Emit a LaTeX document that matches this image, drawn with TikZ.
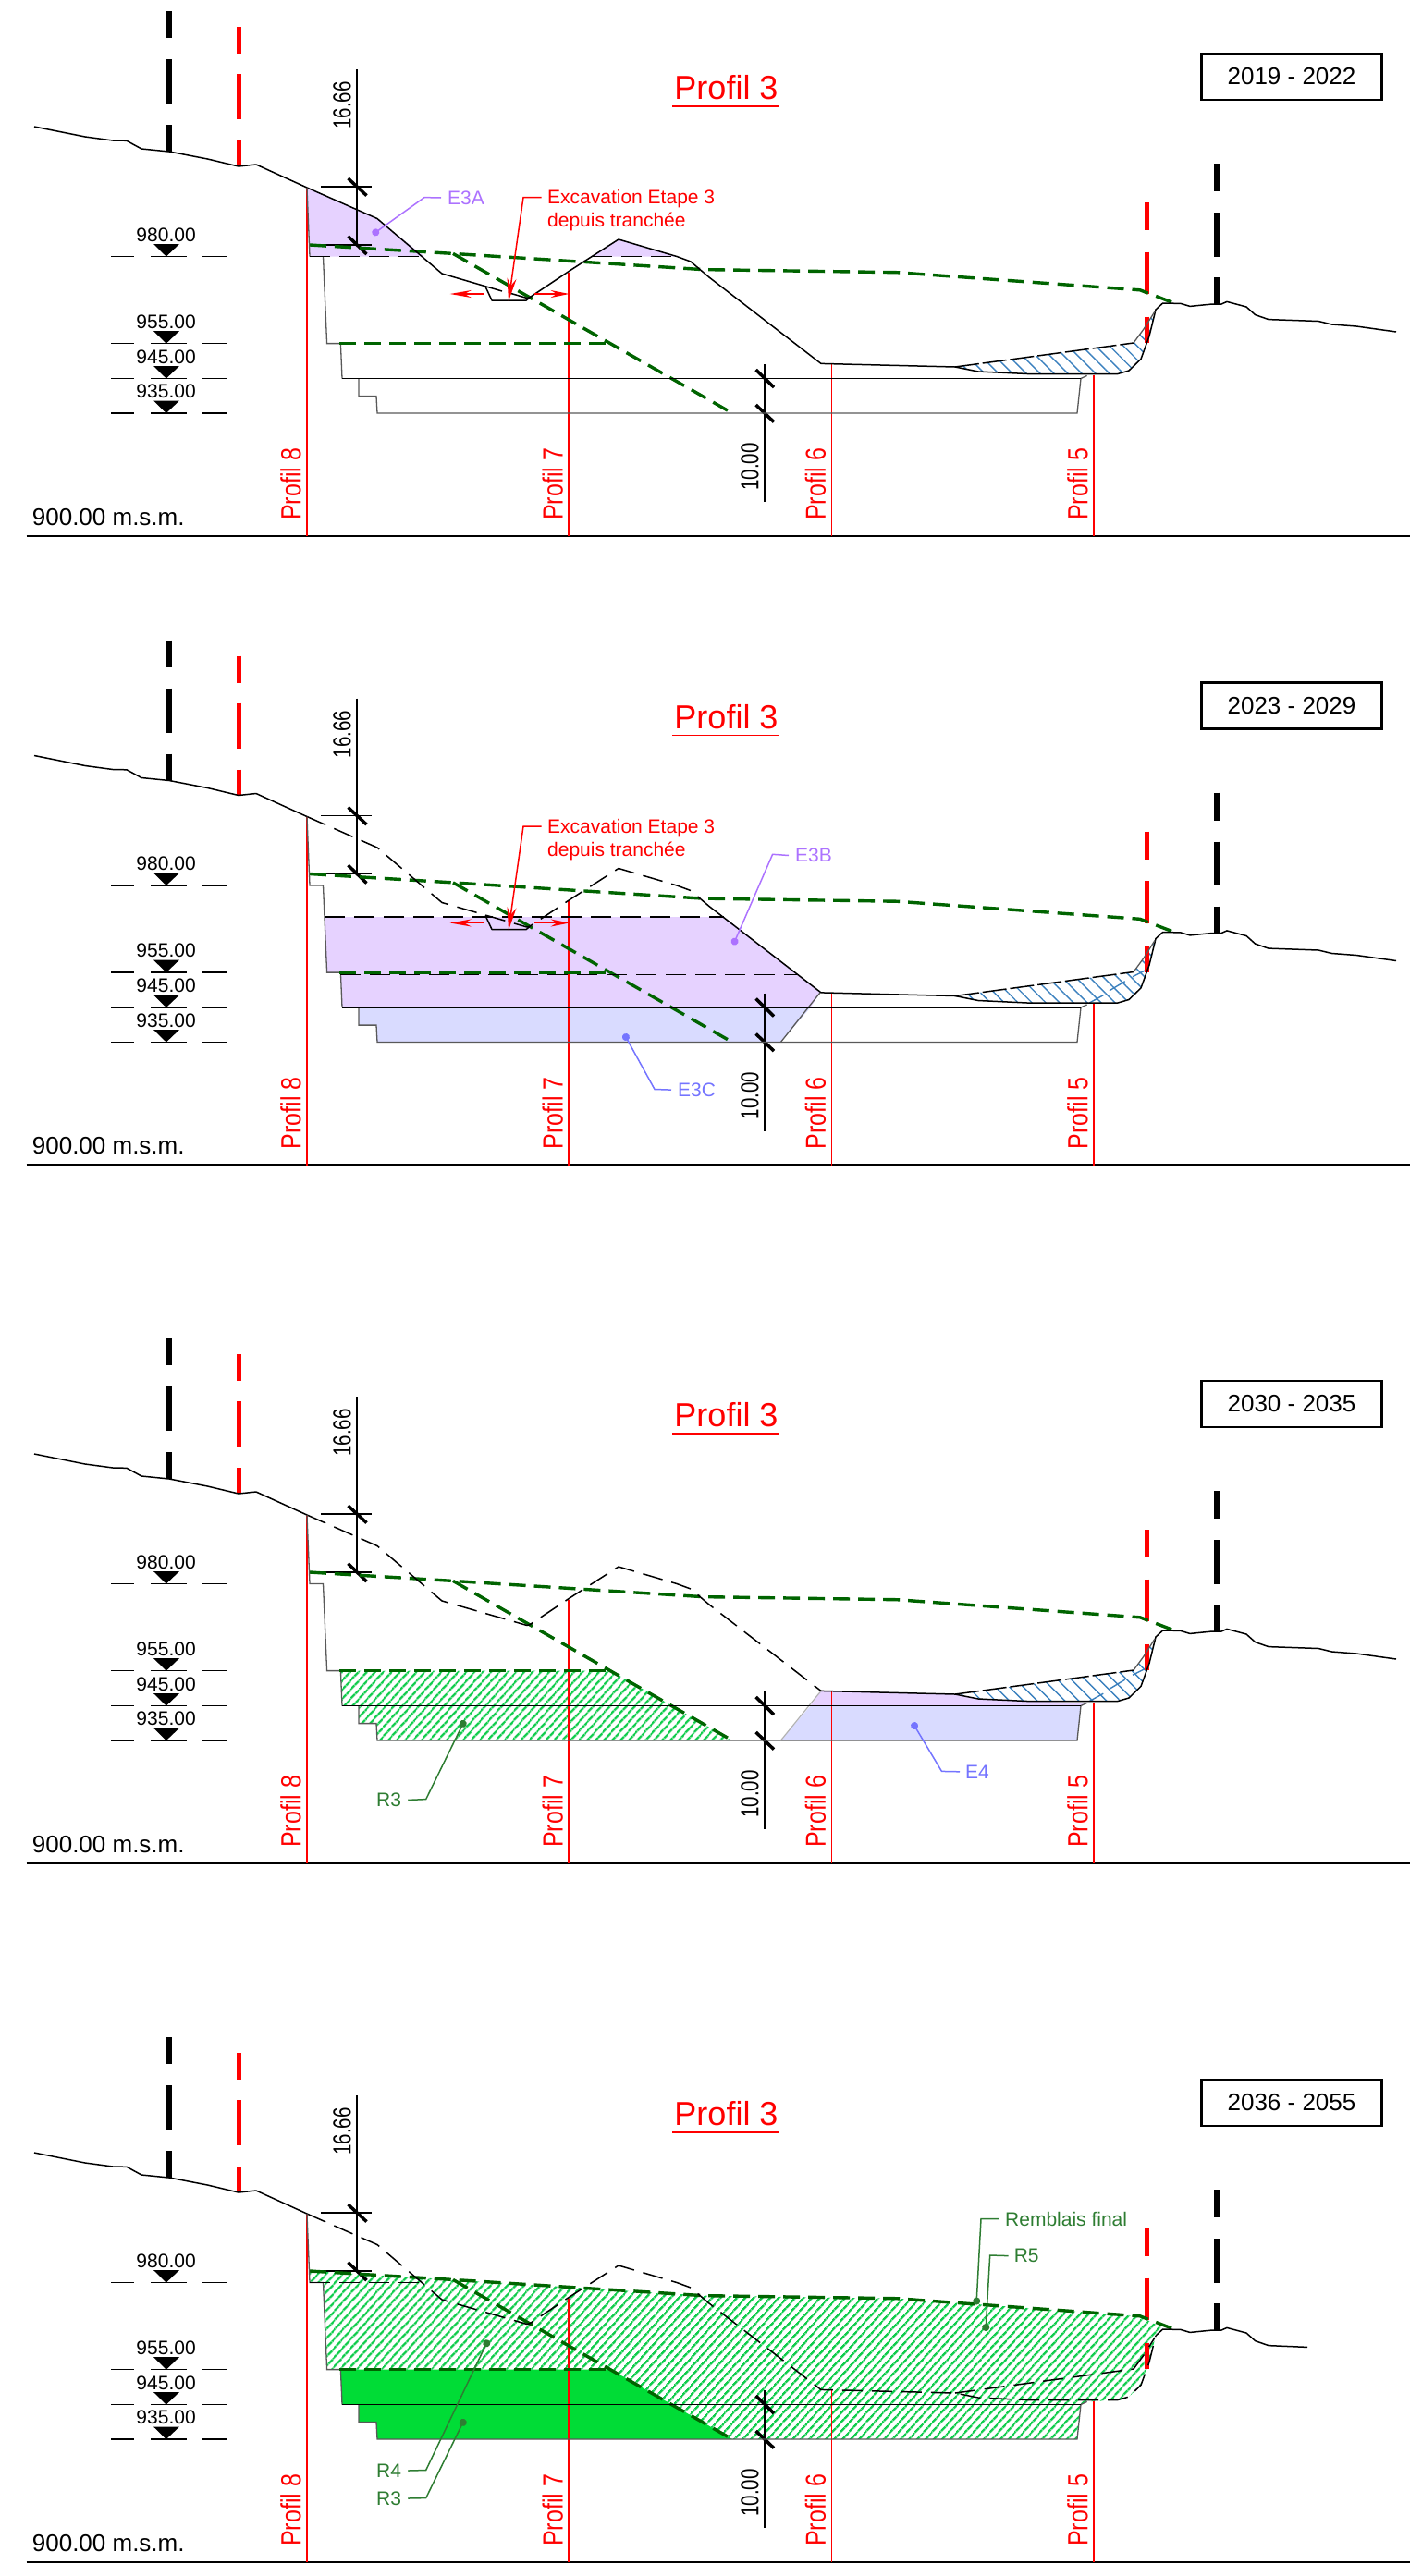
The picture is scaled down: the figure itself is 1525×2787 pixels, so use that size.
\documentclass[tikz,border=0pt]{standalone}
\usepackage{fontspec}
\setmainfont{Liberation Sans}
\usetikzlibrary{arrows.meta,patterns.meta}

\definecolor{violetpale}{HTML}{E6D2FF}
\definecolor{violetline}{HTML}{AC72FF}
\definecolor{lavande}{HTML}{D9DBFF}
\definecolor{lavandeline}{HTML}{7474FF}
\definecolor{vertfonce}{HTML}{006400}
\definecolor{vertnote}{HTML}{2E7D32}
\definecolor{vertplein}{HTML}{00DC36}
\definecolor{verthachure}{HTML}{10CC4C}
\definecolor{bleuhachure}{HTML}{3A80BE}

\tikzset{
  ground/.style={line width=1.5pt,line join=round},
  grounddash/.style={ground,dash pattern=on 22pt off 10pt},
  greyline/.style={line width=1.3pt,draw=black!65},
  blackline/.style={line width=1.5pt},
  leveldash/.style={line width=1.5pt,dash pattern=on 22pt off 10pt},
  greendash/.style={line width=3.4pt,draw=vertfonce,dash pattern=on 18pt off 9pt},
  blueedge/.style={line width=1.5pt,dash pattern=on 26pt off 4pt},
  profline/.style={line width=1.8pt,red},
  proflabel/.style={red,rotate=90,anchor=west,inner sep=0pt,font=\fontsize{25}{27}\selectfont},
  levellabel/.style={inner sep=0pt,font=\fontsize{21}{24}\selectfont},
  dimlabel/.style={inner sep=0pt,rotate=90,font=\fontsize{20.5}{24}\selectfont},
  dimtick/.style={line width=3.5pt},
  note/.style={anchor=west,inner sep=0pt,font=\fontsize{21}{25}\selectfont},
  leader/.style={line width=1.5pt,{Circle[length=8pt,width=8pt]}-},
  hatchblue/.style={pattern={Lines[angle=-45,distance=10.6pt,line width=1.4pt]},pattern color=bleuhachure},
  hatchgreen/.style={pattern={Lines[angle=48,distance=6.5pt,line width=2.4pt]},pattern color=verthachure},
}
\newcommand{\tall}[2]{\scalebox{1}[#1]{#2}}

% terrain pieces
\newcommand{\groundleft}{(37,137) -- (92,148) -- (122,152) -- (137,152.3) -- (153,161) -- (183,164) -- (224.5,172) -- (258,180) -- (277,178) -- (332,203)}
\newcommand{\groundhill}{(573,321.7) -- (616,293) -- (669,259) -- (732,277.5) -- (747,283) -- (767,300)}
\newcommand{\groundbasin}{(888,393.4) -- (1033,397) -- (1058,402) -- (1111,404.5) -- (1209,404.5) -- (1221,401) -- (1234,388.4)}
\newcommand{\groundbank}{(1234,388.4) -- (1243,363.6) -- (1250,335)}
\newcommand{\groundtop}{(1250,335) -- (1257.6,328) -- (1277,328.4) -- (1287,331.4) -- (1311,329) -- (1321,329) -- (1327,326.4) -- (1348,332) -- (1357.6,340.6) -- (1372,345.6)}
\newcommand{\groundtail}{(1372,345.6) -- (1426,347.5) -- (1440.5,351) -- (1467,353) -- (1510,359)}
\newcommand{\shapeRthree}{(368.4,371.6) -- (660.7,371.6) -- (792,447) -- (408,447) -- (407,428.6) -- (388,428.6) -- (388,409.5) -- (370,409.5) -- cycle}
\newcommand{\shapeBlue}{(1033,397) -- (1226,371) -- (1237,356) -- (1249,337) -- (1243,363.6) -- (1234,388.4) -- (1221,401) -- (1209,404.5) -- (1111,404.5) -- (1058,402) -- cycle}

% what stays the same in the four sections
\newcommand{\sectionframe}[1]{
  \draw[line width=2.2pt] (28.6,580) -- (1525,580);
  \node (base) [anchor=west,inner sep=0pt,font=\fontsize{26}{28}\selectfont] at (34.7,559.5) {900.00 m.s.m.};
  \foreach \k/\xx/\yy in {8/332/203,7/615.3/294.7,6/899.5/393.4,5/1183/405.6} {
    \draw[profline] (\xx,\yy) -- (\xx,580);
    \node (prof\k) [proflabel] at (\xx-17.5,563) {\tall{1.22}{Profil \k}};
  }
  \foreach \k/\lev/\yy in {a/980.00/277.5,b/955.00/371.6,c/945.00/409.5,d/935.00/447} {
    \draw[line width=1.5pt] (120,\yy) -- (145,\yy) (163,\yy) -- (201.5,\yy) (219,\yy) -- (245,\yy);
    \fill (166,\yy-13.5) -- (194,\yy-13.5) -- (179.8,\yy) -- cycle;
    \node (lev\k) [levellabel] at (179.6,\yy-23.5) {\lev};
  }
  % vertical limits
  \foreach \y/\z in {12/41,64/112,135/164} \draw[line width=6pt] (182.7,\y) -- (182.7,\z);
  \foreach \y/\z in {29/58,80/129,152/180} \draw[line width=5pt,red] (258.7,\y) -- (258.7,\z);
  \foreach \y/\z in {219/249,272.5/318.4,342.5/371} \draw[line width=5pt,red] (1240,\y) -- (1240,\z);
  \foreach \y/\z in {177/207,230/277.5,300/329} \draw[line width=6pt] (1315.6,\y) -- (1315.6,\z);
  % dimensions
  \draw[line width=1.5pt] (386,75) -- (386,265.5) (347,202) -- (402,202) (347,265) -- (402,265);
  \draw[dimtick] (376.5,193) -- (396.5,211.6);
  \draw[dimtick] (376.5,255.6) -- (396.5,275);
  \node (dimtop) [dimlabel] at (370,114) {\tall{1.33}{16.66}};
  \draw[line width=1.5pt] (826.8,394) -- (826.8,543.4);
  \draw[dimtick] (817.6,400) -- (837,419);
  \draw[dimtick] (817.6,438) -- (837,456.6);
  \node (dimbot) [dimlabel] at (811,505) {\tall{1.33}{10.00}};
  % final surface
  \draw[greendash] (335,265) -- (490,274.4) -- (760,291.6) -- (970,294.7) -- (1233,313.8) -- (1270,328);
  \draw[greendash] (490,274.4) -- (792,447);
  % title and period
  \node (titre) [red,inner sep=0pt,font=\fontsize{36}{38}\selectfont] at (785.5,95) {Profil 3};
  \draw[red,line width=1.8pt] (727,115) -- (843,115);
  \node (date) [draw,line width=2.5pt,minimum width=195pt,minimum height=50pt,inner sep=0pt,font=\fontsize{26}{28}\selectfont] at (1397,83) {#1};
}
\newcommand{\excavnote}{
  \node (excav) [note,red,align=left] at (592,228) {Excavation Etape 3\\depuis tranchée};
  \coordinate (excavtail) at (585.7,213.6);
  \coordinate (excavtip) at (550,326);
  \draw[red,line width=1.5pt,-{Stealth[length=25pt,width=10pt]}] (excavtail) -- (566,213.6) -- (excavtip);
  \draw[red,line width=1.5pt,-{Stealth[length=23pt,width=8pt]}] (523,318) -- (486.7,318);
  \draw[red,line width=1.5pt,-{Stealth[length=20pt,width=8pt]}] (578,318) -- (615.7,318);
}
\newcommand{\crossblue}{
  \draw[bleuhachure,line width=1.4pt] (1178.3,404.5) -- (1193.3,396.2) (1200,391.2) -- (1216.7,381.2) (1225,376.2) -- (1241.7,367.8);
}

\begin{document}
\begin{tikzpicture}[x=1pt,y=-1pt]
\useasboundingbox (0,0) rectangle (1525,2787);

% 2019 - 2022
\begin{scope}[name prefix=pa-]
\fill[violetpale] (332,203) -- (408,236.5) -- (459,277.5) -- (335,277.5) -- cycle;
\fill[violetpale] (640,277.5) -- (669,259) -- (732,277.5) -- cycle;
\fill[hatchblue] \shapeBlue;
\sectionframe{2019 - 2022}
\draw[ground] \groundleft -- (408,236.5) -- (478,296) -- (543,315);
\draw[ground] (551,317) -- (570,322.5) -- \groundhill -- (888,393.4) -- \groundbasin -- \groundbank -- \groundtop -- \groundtail;
\draw[ground] (525,310) -- (532,325) -- (569.3,325) -- (573,321.7);
\draw[blueedge] (1033,397) -- (1226,371);
\draw[greyline] (1226,371) -- (1237,356) -- (1249,337);
\draw[greyline] (332,203) -- (335,277.5) (349.5,277.5) -- (353.6,371.6) -- (368.4,371.6) -- (370,409.5);
\draw[greyline] (388,409.5) -- (388,428.6) -- (407,428.6) -- (408,447) -- (1165,447) -- (1169,409.5) -- (1175.6,406.4);
\draw[blackline] (370,409.5) -- (1169,409.5);
\draw[leveldash] (335,277.5) -- (459,277.5) (640,277.5) -- (732,277.5);
\draw[greendash] (367,371.6) -- (660.7,371.6);
\excavnote
\coordinate (e3adot) at (403,253.7);
\node (e3a) [note,violetline] at (484,214) {E3A};
\draw[leader,violetline] (e3adot) -- (459,213.6) -- ([xshift=-7pt]e3a.west);
\end{scope}

% 2023 - 2029
\begin{scope}[yshift=-680.5pt,name prefix=pb-]
\fill[violetpale] (351,311.5) -- (783,311.5) -- (887,393.4) -- (876.6,409.5) -- (370,409.5) -- (368.4,371.6) -- (353.6,371.6) -- cycle;
\fill[lavande] (388,409.5) -- (876.6,409.5) -- (844.4,447) -- (408,447) -- (407,428.6) -- (388,428.6) -- cycle;
\fill[hatchblue] \shapeBlue;
\crossblue
\sectionframe{2023 - 2029}
\draw[ground] \groundleft;
\draw[grounddash] (332,203) -- (408,236.5) -- (478,296) -- (570,322.5) -- \groundhill;
\draw[ground] (767,300) -- (888,393.4) -- \groundbasin -- \groundbank -- \groundtop -- \groundtail;
\draw[ground] (525,310) -- (532,325) -- (569.3,325) -- (573,321.7);
\draw[blueedge] (1033,397) -- (1226,371);
\draw[greyline] (1226,371) -- (1237,356) -- (1249,337);
\draw[greyline] (332,203) -- (335,277.5) -- (349.5,277.5) -- (353.6,371.6) -- (368.4,371.6) -- (370,409.5);
\draw[greyline] (388,409.5) -- (388,428.6) -- (407,428.6) -- (408,447) -- (1165,447) -- (1169,409.5) -- (1175.6,406.4);
\draw[greyline] (887,393.4) -- (844.4,447);
\draw[blackline] (370,409.5) -- (1169,409.5);
\draw[leveldash] (351,311.5) -- (783,311.5) (368,374) -- (862,374);
\draw[greendash] (367,371.6) -- (660.7,371.6);
\excavnote
\coordinate (e3bdot) at (793,341.7);
\node (e3b) [note,violetline] at (860,245) {E3B};
\draw[leader,violetline] (e3bdot) -- (835.6,243.8) -- ([xshift=-7pt]e3b.west);
\coordinate (e3cdot) at (675,438);
\node (e3c) [note,lavandeline] at (733,498.6) {E3C};
\draw[leader,lavandeline] (e3cdot) -- (708,498) -- ([xshift=-7pt]e3c.west);
\end{scope}

% 2030 - 2035
\begin{scope}[yshift=-1436pt,name prefix=pc-]
\fill[violetpale] (888,393.4) -- (1033,397) -- (1058,402) -- (1111,404.5) -- (1175.6,406.4) -- (1169,409.5) -- (876.6,409.5) -- cycle;
\fill[lavande] (876.6,409.5) -- (1169,409.5) -- (1165,447) -- (844.4,447) -- cycle;
\fill[hatchgreen] \shapeRthree;
\fill[hatchblue] \shapeBlue;
\crossblue
\sectionframe{2030 - 2035}
\draw[ground] \groundleft;
\draw[grounddash] (332,203) -- (408,236.5) -- (478,296) -- (570,322.5) -- \groundhill -- (888,393.4);
\draw[ground] \groundbasin -- \groundbank -- \groundtop -- \groundtail;
\draw[blueedge] (1033,397) -- (1226,371);
\draw[greyline] (1226,371) -- (1237,356) -- (1249,337);
\draw[greyline] (332,203) -- (335,277.5) -- (349.5,277.5) -- (353.6,371.6) -- (368.4,371.6) -- (370,409.5);
\draw[greyline] (388,409.5) -- (388,428.6) -- (407,428.6) -- (408,447) -- (1165,447) -- (1169,409.5) -- (1175.6,406.4);
\draw[black!30,line width=1.2pt] (888,393.4) -- (844.4,447);
\draw[blackline] (370,409.5) -- (1169,409.5);
\draw[greendash] (367,371.6) -- (660.7,371.6);
\coordinate (r3dot) at (502.5,425.3);
\node (r3) [note,vertnote] at (407,511.4) {R3};
\draw[leader,vertnote] (r3dot) -- (460.7,510.6) -- ([xshift=7pt]r3.east);
\coordinate (e4dot) at (987,427.6);
\node (e4) [note,lavandeline] at (1044,480.8) {E4};
\draw[leader,lavandeline] (e4dot) -- (1018.5,480.4) -- ([xshift=-6pt]e4.west);
\end{scope}

% 2036 - 2055
\begin{scope}[yshift=-2192pt,name prefix=pd-]
\fill[vertplein] \shapeRthree;
\fill[hatchgreen] (335,265) -- (490,274.4) -- (760,291.6) -- (970,294.7) -- (1233,313.8) -- (1256,326) -- (1250,335) -- (1243,363.6) -- (1234,388.4) -- (1221,401) -- (1209,404.5) -- (1175.6,406.4) -- (1169,409.5) -- (1165,447) -- (792,447) -- (660.7,371.6) -- (353.6,371.6) -- (349.5,277.5) -- (335,277.5) -- cycle;
\sectionframe{2036 - 2055}
\draw[ground] \groundleft;
\draw[grounddash] (332,203) -- (408,236.5) -- (478,296) -- (570,322.5) -- \groundhill -- (888,393.4) -- \groundbasin -- \groundbank;
\draw[grounddash] (1033,397) -- (1226,371) -- (1237,356) -- (1249,337);
\draw[ground] \groundtop -- (1414,347.4);
\draw[greyline] (332,203) -- (335,277.5) -- (349.5,277.5) -- (353.6,371.6) -- (368.4,371.6) -- (370,409.5);
\draw[greyline] (388,409.5) -- (388,428.6) -- (407,428.6) -- (408,447) -- (1165,447) -- (1169,409.5) -- (1175.6,406.4);
\draw[blackline] (370,409.5) -- (1169,409.5);
\draw[leveldash] (335,277.5) -- (459,277.5);
\draw[greendash] (367,371.6) -- (660.7,371.6);
\coordinate (r4dot) at (528,339.6);
\node (r4) [note,vertnote] at (407,481) {R4};
\draw[leader,vertnote] (r4dot) -- (460.7,480.5) -- ([xshift=7pt]r4.east);
\coordinate (r3dot) at (502.5,425.3);
\node (r3) [note,vertnote] at (407,511) {R3};
\draw[leader,vertnote] (r3dot) -- (460.7,510.6) -- ([xshift=7pt]r3.east);
\coordinate (finaldot) at (1056,301.5);
\node (final) [note,vertnote] at (1087,208.6) {Remblais final};
\draw[leader,vertnote] (finaldot) -- (1061,208.6) -- ([xshift=-7pt]final.west);
\coordinate (r5dot) at (1066,330);
\node (r5) [note,vertnote] at (1096.6,248.6) {R5};
\draw[leader,vertnote] (r5dot) -- (1070.7,248) -- ([xshift=-6pt]r5.west);
\end{scope}
\end{tikzpicture}
\end{document}
